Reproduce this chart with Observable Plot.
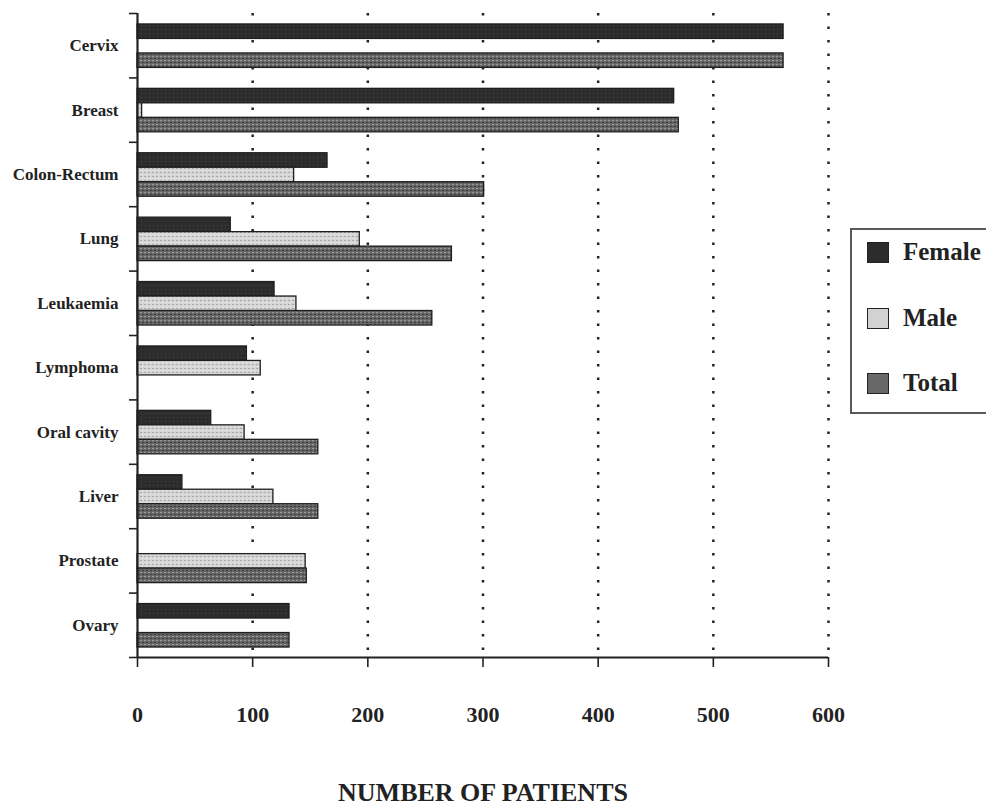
<!DOCTYPE html>
<html><head><meta charset="utf-8">
<script src="https://cdn.jsdelivr.net/npm/d3@7"></script>
<script src="https://cdn.jsdelivr.net/npm/@observablehq/plot@0.6"></script>
<style>
body{margin:0;background:#fff;font-family:"Liberation Serif","Times New Roman",serif;}
#wrap{position:relative;width:986px;height:805px;overflow:hidden;}
#legend{position:absolute;left:850px;top:228px;width:170px;height:186px;border:2px solid #5a5a5a;box-sizing:border-box;}
.item{position:absolute;left:15px;height:30px;line-height:30px;display:flex;align-items:center;font-weight:bold;font-size:25px;color:#222;white-space:nowrap;}
.sw{width:20px;height:19px;border:1.5px solid #222;margin-right:14px;box-sizing:content-box;}
</style></head><body>
<div id="wrap"><div id="chart"></div><div id="legend"></div></div>
<script>
const categories = ["Cervix","Breast","Colon-Rectum","Lung","Leukaemia","Lymphoma","Oral cavity","Liver","Prostate","Ovary"];
const seriesNames = ["Female","Male","Total"];
const female = [561, 466, 165, 81, 119, 95, 64, 39, 0, 132];
const male   = [0, 4, 136, 193, 138, 107, 93, 118, 146, 0];
const total  = [561, 470, 301, 273, 256, null, 157, 157, 147, 132];
const xTicks = [0, 100, 200, 300, 400, 500, 600];
const gridTicks = [100, 200, 300, 400, 500, 600];
const xLabel = "NUMBER OF PATIENTS";

const seriesValues = [female, male, total];
const fills = ["url(#patFemale)", "url(#patMale)", "url(#patTotal)"];
const swatch = ["#2c2c2c", "#d2d2d2", "#686868"];

// one row per bar; a category occupies one unit on y, the three bars sit inside it
const rows = [];
categories.forEach((c, i) => {
  seriesNames.forEach((s, k) => {
    const v = seriesValues[k][i];
    if (v != null && v > 0) {
      rows.push({cat: c, series: s, value: v, fill: fills[k],
        y1: i + 0.17 + k * 0.225, y2: i + 0.17 + (k + 1) * 0.225});
    }
  });
});

const font = '"Liberation Serif","Times New Roman",serif';

const chart = Plot.plot({
  width: 986,
  height: 805,
  marginLeft: 137,
  marginRight: 158,
  marginTop: 13,
  marginBottom: 148,
  style: {fontFamily: font, color: "#222", background: "#fff"},
  x: {domain: [0, 600]},
  y: {domain: [0, categories.length], reverse: true},
  marks: [
    Plot.ruleX(gridTicks, {stroke: "#222", strokeWidth: 2.5, strokeDasharray: "2.5,11"}),
    Plot.rect(rows, {x1: 0, x2: "value", y1: "y1", y2: "y2", fill: "fill", stroke: "#1e1e1e", strokeWidth: 1.3}),
    Plot.ruleX([0], {stroke: "#222", strokeWidth: 2.2}),
    Plot.ruleY([categories.length], {stroke: "#222", strokeWidth: 2.2}),
    Plot.axisY({ticks: d3.range(0, categories.length + 1), tickSize: 8, tickFormat: () => "", label: null, stroke: "#222", strokeWidth: 1.6}),
    Plot.axisY({ticks: categories.map((c, i) => i + 0.5), tickSize: 0, tickPadding: 19,
      tickFormat: v => categories[Math.floor(v)], label: null, fontSize: 17, fontWeight: "bold"}),
    Plot.axisX({ticks: xTicks, tickSize: 10, tickPadding: 39, tickFormat: d => d, fontSize: 22, fontWeight: "bold",
      label: null, stroke: "#222", strokeWidth: 1.6}),
    Plot.text([xLabel], {frameAnchor: "bottom", dy: 143, lineAnchor: "bottom", fontSize: 26, fontWeight: "bold", fill: "#222"})
  ]
});

// texture patterns for the bars
const ns = "http://www.w3.org/2000/svg";
const defs = document.createElementNS(ns, "defs");
defs.innerHTML = `
<pattern id="patFemale" width="4" height="4" patternUnits="userSpaceOnUse">
  <rect width="4" height="4" fill="#2c2c2c"/><rect x="1" y="1" width="1" height="1" fill="#474747"/>
</pattern>
<pattern id="patMale" width="4" height="4" patternUnits="userSpaceOnUse">
  <rect width="4" height="4" fill="#d6d6d6"/><rect x="0" y="0" width="2" height="1" fill="#a8a8a8"/><rect x="2" y="2" width="1" height="1" fill="#efefef"/>
</pattern>
<pattern id="patTotal" width="4" height="4" patternUnits="userSpaceOnUse">
  <rect width="4" height="4" fill="#666"/><rect x="0" y="0" width="2" height="1" fill="#9a9a9a"/><rect x="2" y="2" width="2" height="1" fill="#3c3c3c"/>
</pattern>`;
chart.insertBefore(defs, chart.firstChild);
document.getElementById("chart").appendChild(chart);

// legend
const legend = document.getElementById("legend");
const tops = [7, 73, 138];
seriesNames.forEach((s, k) => {
  const it = document.createElement("div");
  it.className = "item";
  it.style.top = tops[k] + "px";
  const sw = document.createElement("div");
  sw.className = "sw";
  sw.style.background = swatch[k];
  it.appendChild(sw);
  it.appendChild(document.createTextNode(s));
  legend.appendChild(it);
});
</script>
</body></html>
